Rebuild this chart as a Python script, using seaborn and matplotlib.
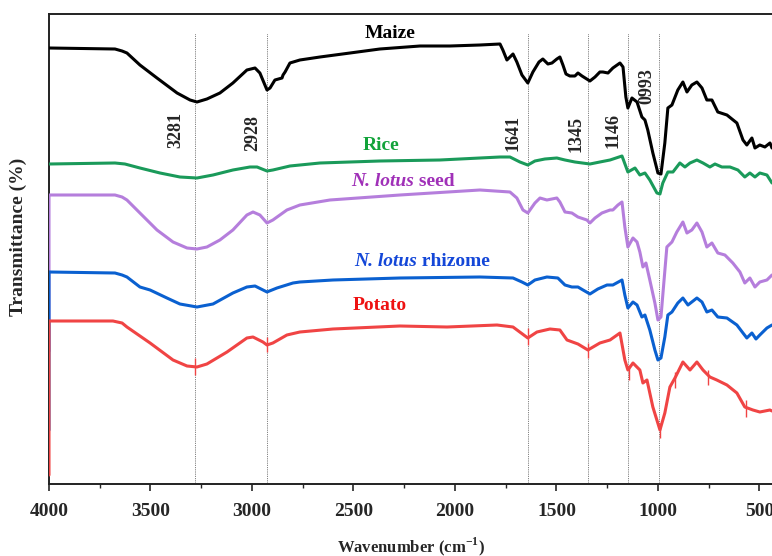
import numpy as np
import pandas as pd
import matplotlib
matplotlib.use("Agg")
import matplotlib.pyplot as plt
import seaborn as sns

# FTIR spectra (offset transmittance, arbitrary units)
maize_wn = [4000, 3675, 3640, 3616, 3552, 3468, 3369, 3305, 3271, 3222, 3158, 3094, 3025, 2985, 2961,
            2926, 2911, 2887, 2852, 2847, 2837, 2813, 2764, 2665, 2517, 2370, 2172, 2025, 1877, 1778, 1764,
            1744, 1724, 1714, 1695, 1670, 1641, 1616, 1586, 1567, 1542, 1522, 1498, 1483, 1468, 1453,
            1434, 1409, 1394, 1374, 1335, 1310, 1286, 1271, 1246, 1222, 1187, 1172, 1158, 1148, 1128,
            1103, 1079, 1064, 1050, 1025, 1000, 985, 966, 951, 931, 902, 877, 857, 833, 808, 783, 759,
            734, 705, 660, 611, 581, 562, 537, 522, 498, 473, 448, 438]
maize_t = [436, 435, 433, 431, 419, 406, 391, 384, 382, 385, 391, 401, 414, 416, 411,
           394, 396, 404, 406, 409, 412, 421, 424, 427, 431, 435, 438, 438, 439, 440, 434,
           424, 428, 430, 422, 409, 401, 412, 422, 425, 420, 421, 425, 427, 419, 410,
           408, 408, 411, 408, 403, 407, 412, 412, 411, 416, 421, 417, 387, 376, 386,
           382, 367, 364, 354, 331, 311, 310, 341, 376, 379, 394, 402, 392, 399, 402, 396, 384,
           384, 372, 369, 361, 344, 339, 346, 336, 339, 337, 341, 336]

rice_wn = [4000, 3675, 3626, 3552, 3453, 3355, 3271, 3192, 3094, 3010, 2975, 2926, 2897, 2813, 2665,
           2370, 2074, 1778, 1729, 1680, 1641, 1606, 1557, 1498, 1458, 1409, 1335, 1286, 1236, 1177,
           1148, 1113, 1089, 1064, 1040, 1005, 990, 976, 951, 926, 892, 867, 842, 808, 778, 744, 719,
           685, 645, 606, 572, 547, 522, 498, 463, 438]
rice_t = [320, 321, 320, 316, 311, 307, 306, 309, 314, 317, 317, 313, 314, 318, 321,
          323, 324, 327, 327, 322, 319, 323, 325, 326, 324, 322, 320, 322, 324, 328,
          312, 316, 309, 311, 304, 291, 290, 301, 312, 312, 321, 317, 321, 324, 321, 317, 320,
          317, 317, 314, 307, 311, 307, 311, 309, 301]

seed_wn = [4000, 4000, 3675, 3640, 3616, 3552, 3468, 3389, 3320, 3271, 3222, 3158, 3094, 3025, 2995,
           2961, 2926, 2897, 2828, 2764, 2616, 2271, 1877, 1729, 1695, 1665, 1641, 1606, 1581, 1547,
           1498, 1483, 1458, 1424, 1394, 1350, 1335, 1310, 1276, 1236, 1222, 1197, 1177, 1163, 1148,
           1123, 1103, 1089, 1074, 1059, 1040, 1015, 1000, 985, 971, 956, 931, 907, 877, 857, 833,
           808, 783, 759, 734, 705, 670, 631, 596, 572, 547, 522, 498, 463, 438]
seed_t = [133, 289, 289, 287, 284, 271, 254, 242, 236, 235, 237, 244, 254, 269, 272,
          269, 261, 264, 274, 279, 284, 289, 294, 292, 286, 274, 271, 281, 286, 284,
          286, 282, 272, 271, 267, 264, 261, 266, 271, 274, 274, 279, 282, 257, 237,
          246, 242, 232, 217, 221, 204, 181, 164, 167, 201, 237, 242, 252, 262, 251, 254,
          261, 252, 237, 241, 231, 229, 221, 212, 201, 206, 197, 202, 204, 209]

rhizome_wn = [4000, 4000, 3675, 3640, 3616, 3552, 3502, 3419, 3355, 3271, 3192, 3094, 3025, 2985, 2926,
              2877, 2798, 2764, 2601, 2271, 1877, 1714, 1670, 1641, 1606, 1547, 1493, 1458, 1424, 1394,
              1369, 1335, 1296, 1251, 1222, 1177, 1163, 1148, 1123, 1103, 1079, 1064, 1040, 1015, 1000,
              985, 966, 951, 931, 902, 877, 852, 808, 783, 759, 734, 705, 660, 611, 581, 562, 537, 517,
              498, 463, 438]
rhizome_t = [54, 212, 211, 209, 207, 197, 194, 186, 180, 177, 180, 191, 197, 198, 192,
             196, 201, 202, 204, 206, 207, 206, 202, 199, 204, 207, 206, 199, 197, 197,
             194, 190, 195, 199, 199, 204, 189, 176, 182, 179, 167, 169, 154, 134, 124,
             126, 147, 169, 172, 181, 186, 179, 186, 182, 172, 174, 167, 166, 159, 151, 146, 151, 145,
             149, 156, 159]

potato_wn = [4000, 4000, 3685, 3640, 3616, 3502, 3389, 3320, 3271, 3222, 3123, 3025, 2995, 2946, 2926,
             2897, 2828, 2764, 2601, 2271, 2039, 1793, 1714, 1641, 1596, 1532, 1483, 1448, 1394, 1345,
             1286, 1236, 1187, 1163, 1148, 1123, 1089, 1074, 1054, 1025, 990, 966, 941, 916, 877, 842,
             808, 778, 744, 710, 660, 611, 572, 532, 498, 448, 438]
potato_t = [9, 163, 163, 161, 157, 141, 124, 118, 117, 120, 132, 146, 147, 142, 139,
            141, 149, 152, 155, 158, 157, 159, 157, 146, 152, 155, 154, 144, 140, 134,
            141, 144, 151, 124, 114, 121, 114, 101, 104, 77, 54, 71, 97, 106, 122, 114,
            122, 114, 107, 104, 99, 91, 77, 74, 72, 74, 73]

# spikes in the potato trace
spike_wn = [3281, 2928, 1641, 1345, 1143, 990, 916, 754, 567]
spike_lo = [109, 132, 139, 126, 104, 46, 96, 99, 67]
spike_hi = [126, 147, 156, 141, 119, 61, 112, 114, 84]

peaks = [3281, 2928, 1641, 1345, 1146, 993]
peak_labels = ["3281", "2928", "1641", "1345", "1146", "0993"]
peak_label_wn = [3374, 2995, 1714, 1404, 1222, 1054]
peak_label_t = [354, 351, 351, 350, 353, 398]

series = [("Maize", maize_wn, maize_t, "#000000"),
          ("Rice", rice_wn, rice_t, "#1a9a5a"),
          ("N. lotus seed", seed_wn, seed_t, "#b57edc"),
          ("N. lotus rhizome", rhizome_wn, rhizome_t, "#0a60d0"),
          ("Potato", potato_wn, potato_t, "#f04444")]

frames = []
for name, wn, t, c in series:
    frames.append(pd.DataFrame({"wn": wn, "t": t, "sample": name}))
df = pd.concat(frames, ignore_index=True)

sns.set_style("white")
plt.rcParams["font.family"] = ["Liberation Serif", "DejaVu Serif"]
plt.rcParams["font.weight"] = "bold"
plt.rcParams["mathtext.fontset"] = "custom"
plt.rcParams["mathtext.rm"] = "Liberation Serif:bold"
plt.rcParams["mathtext.bf"] = "Liberation Serif:bold"

fig = plt.figure(figsize=(7.72, 5.56), dpi=100)
ax = fig.add_axes([49 / 772, 1 - 484 / 556, 723 / 772, 470 / 556])

# dotted guide lines at the assigned bands
for p in peaks:
    ax.plot([p, p], [2, 451], ls=(0, (1, 1.2)), lw=0.6, color="#555555", zorder=1)

for name, wn, t, c in series:
    sns.lineplot(data=df[df["sample"] == name], x="wn", y="t", color=c, lw=2.2,
                 estimator=None, sort=False, ax=ax, zorder=3, legend=False,
                 solid_joinstyle="round", solid_capstyle="round")

ax.vlines(spike_wn, spike_lo, spike_hi, color="#f04444", lw=1.0, zorder=3)

for lab, x, y in zip(peak_labels, peak_label_wn, peak_label_t):
    ax.text(x, y, lab, rotation=90, ha="center", va="center", fontsize=13, fontweight="bold")

fs = 14
ax.text(2320, 451, "Maize", ha="center", va="center", fontsize=fs, fontweight="bold", color="black")
ax.text(2365, 339, "Rice", ha="center", va="center", fontsize=fs, fontweight="bold", color="#12a33a")
ax.text(2202, 302, "N. lotus", ha="right", va="center", fontsize=fs, fontweight="bold",
        style="italic", color="#a030b8")
ax.text(2202, 302, " seed", ha="left", va="center", fontsize=fs, fontweight="bold", color="#a030b8")
ax.text(2187, 222, "N. lotus", ha="right", va="center", fontsize=fs, fontweight="bold",
        style="italic", color="#1447d8")
ax.text(2187, 222, " rhizome", ha="left", va="center", fontsize=fs, fontweight="bold", color="#1447d8")
ax.text(2370, 178, "Potato", ha="center", va="center", fontsize=fs, fontweight="bold", color="#ee1111")

ax.set_xlim(4000, 438)
ax.set_ylim(0, 470)
ax.set_xticks([4000, 3500, 3000, 2500, 2000, 1500, 1000, 500])
ax.set_xticks([3750, 3250, 2750, 2250, 1750, 1250, 750], minor=True)
ax.set_yticks([])
ax.tick_params(axis="x", which="major", direction="out", length=5, width=1.2, labelsize=14,
               bottom=True, pad=9)
ax.tick_params(axis="x", which="minor", direction="out", length=3, width=1.0, bottom=True)
for lab in ax.get_xticklabels():
    lab.set_fontweight("bold")

ax.set_xlabel(r"Wavenumber (cm$^{\mathbf{-1}}$)", fontsize=12, fontweight="bold", labelpad=11)
ax.set_ylabel("Transmittance (%)", fontsize=14, fontweight="bold")
ax.yaxis.set_label_coords(-0.031, 0.525)

for s in ["left", "bottom", "top"]:
    ax.spines[s].set_color("#222222")
    ax.spines[s].set_linewidth(1.4)
ax.spines["right"].set_visible(False)

fig.savefig("out.png", dpi=100)
